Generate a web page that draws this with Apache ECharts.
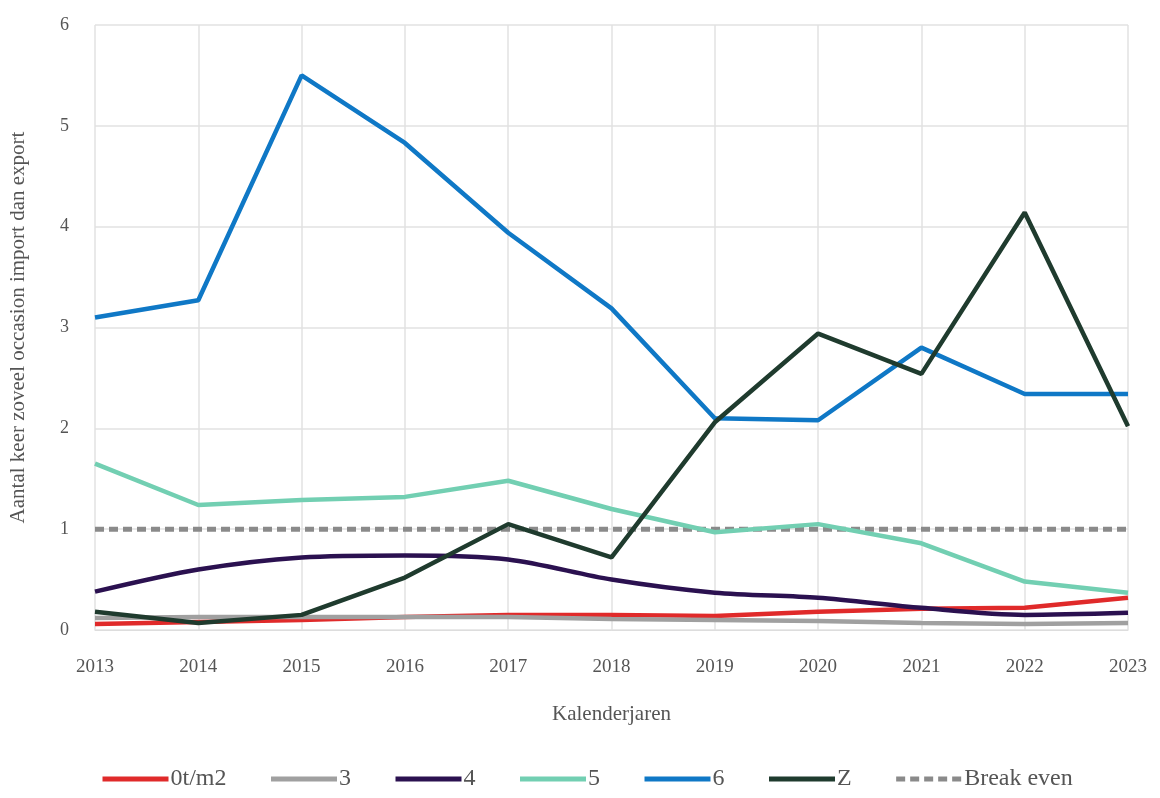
<!DOCTYPE html>
<html><head><meta charset="utf-8">
<script src="https://cdn.jsdelivr.net/npm/echarts@6/dist/echarts.min.js"></script>
<style>html,body{margin:0;padding:0;background:#fff}#c{width:1160px;height:798px}</style>
</head><body><div id="c"></div>
<script>
const years = ['2013','2014','2015','2016','2017','2018','2019','2020','2021','2022','2023'];
const s0tm2 = [0.06,0.08,0.10,0.13,0.15,0.15,0.14,0.18,0.21,0.22,0.32];
const s3 = [0.12,0.13,0.13,0.13,0.13,0.11,0.10,0.09,0.07,0.06,0.07];
const s4 = [0.38,0.60,0.72,0.74,0.70,0.50,0.37,0.32,0.22,0.15,0.17];
const s5 = [1.65,1.24,1.29,1.32,1.48,1.20,0.97,1.05,0.86,0.48,0.37];
const s6 = [3.10,3.27,5.50,4.83,3.94,3.19,2.10,2.08,2.80,2.34,2.34];
const sZ = [0.18,0.07,0.15,0.52,1.05,0.72,2.06,2.94,2.54,4.14,2.02];
const breakEven = [1,1,1,1,1,1,1,1,1,1,1];
const seriesNames = ['0t/m2','3','4','5','6','Z','Break even'];
const yTicks = [0,1,2,3,4,5,6];

const font = 'Liberation Serif';
const colors = ['#e02a2a','#a0a0a0','#2b1150','#72cfb2','#0f78c6','#1f3b2e','#8a8a8a'];
const data = [s0tm2,s3,s4,s5,s6,sZ,breakEven];

const chart = echarts.init(document.getElementById('c'));
chart.setOption({
  animation:false,
  textStyle:{fontFamily:font},
  grid:{left:89,right:32,top:25,bottom:168},
  legend:{
    bottom:2,left:95,itemWidth:66,itemHeight:14,itemGap:42,
    itemStyle:{opacity:0},
    lineStyle:{width:5},
    textStyle:{fontFamily:font,fontSize:24,color:'#555',padding:[0,0,0,-3]},
    data:seriesNames
  },
  xAxis:{
    type:'category',data:years,boundaryGap:false,
    name:'Kalenderjaren',nameLocation:'middle',nameGap:74,
    nameTextStyle:{fontFamily:font,fontSize:21,color:'#555'},
    axisLine:{show:true,lineStyle:{color:'#ddd'}},
    axisTick:{show:false},
    axisLabel:{fontFamily:font,fontSize:19,color:'#555',margin:28},
    splitLine:{show:true,lineStyle:{color:'#e2e2e2',width:1.5}}
  },
  yAxis:{
    type:'value',min:0,max:6,interval:1,
    name:'Aantal keer zoveel occasion import dan export',nameLocation:'middle',nameGap:66,
    nameTextStyle:{fontFamily:font,fontSize:21,color:'#555'},
    axisLine:{show:false},axisTick:{show:false},
    axisLabel:{fontFamily:font,fontSize:18,color:'#555',margin:26,
      formatter:v=>yTicks.includes(v)?String(v):''},
    splitLine:{show:true,lineStyle:{color:'#e2e2e2',width:1.5}}
  },
  series: seriesNames.map((n,i)=>({
    name:n,type:'line',data:data[i],symbol:'none',
    smooth: i===2 ? 0.3 : false,
    z: i===6 ? 3 : (i===4||i===5 ? 5 : 4),
    lineStyle:{color:colors[i],width: i===6?5:4.5, type: i===6?[9,5]:'solid'},
    itemStyle:{color:colors[i]}
  }))
});
</script></body></html>
